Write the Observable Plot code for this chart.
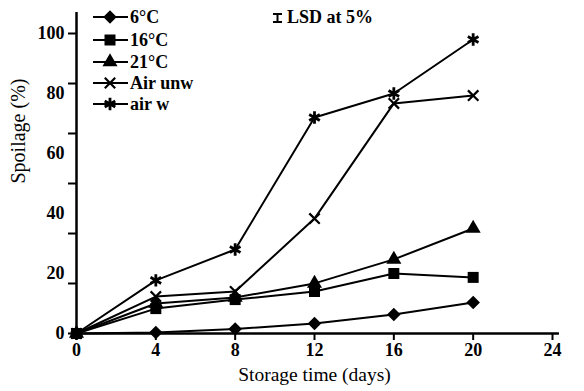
<!DOCTYPE html>
<html><head><meta charset="utf-8">
<script src="https://cdn.jsdelivr.net/npm/d3@7"></script>
<script src="https://cdn.jsdelivr.net/npm/@observablehq/plot@0.6"></script>
<style>
body{margin:0;background:#fff}
#wrap{position:relative;width:584px;height:391px}
#legend{position:absolute;left:0;top:0}
</style>
</head><body><div id="wrap"></div>
<script>
// ---- data ----
const days = [0, 4, 8, 12, 16, 20];
const s6 = [0, 0.3, 1.5, 3.3, 6.3, 10.3];
const s16 = [0, 8.3, 11.3, 14, 20, 18.7];
const s21 = [0, 10, 12, 16.7, 24.7, 35];
const airUnw = [0, 12.3, 14, 38.3, 76.7, 79.3];
const airW = [0, 17.7, 28, 72, 80, 98];
const seriesNames = ["6°C", "16°C", "21°C", "Air unw", "air w"];
const xTicks = [0, 4, 8, 12, 16, 20, 24];
const yTickLabels = [0, 20, 40, 60, 80, 100];
const yTickMarks = [0, 16.67, 33.33, 50, 66.67, 83.33, 100];

const diamondSym = {draw(ctx, size){const r = Math.sqrt(size/2); ctx.moveTo(0,-r); ctx.lineTo(r,0); ctx.lineTo(0,r); ctx.lineTo(-r,0); ctx.closePath();}};
const styles = [
  {symbol: diamondSym, r: 5.4, fill: "black", stroke: "none", sw: 0},
  {symbol: "square", r: 6.2, fill: "black", stroke: "none", sw: 0},
  {symbol: "triangle", r: 5.6, fill: "black", stroke: "none", sw: 0},
  {symbol: "times", r: 4.8, fill: "none", stroke: "black", sw: 2.2},
  {symbol: "asterisk", r: 5.8, fill: "none", stroke: "black", sw: 2.8}
];
const seriesValues = [s6, s16, s21, airUnw, airW];
const rows = seriesNames.flatMap((n, k) => days.map((d, i) => ({day: d, value: seriesValues[k][i], series: n})));

const font = "'Liberation Serif', 'Times New Roman', serif";
const chart = Plot.plot({
  width: 584, height: 391,
  marginLeft: 76, marginRight: 32, marginTop: 33, marginBottom: 58,
  x: {domain: [0, 24]},
  y: {domain: [0, 100]},
  style: {fontFamily: font, background: "white", color: "black", overflow: "visible"},
  marks: [
    Plot.axisX({ticks: xTicks, tickSize: 7, strokeWidth: 2, tickPadding: 3, fontSize: 18, fontWeight: "bold", label: null}),
    Plot.axisY({ticks: yTickMarks, tickSize: 8, strokeWidth: 2, tickFormat: () => "", label: null}),
    Plot.axisY({ticks: yTickLabels, tickSize: 0, tickPadding: 12, fontSize: 18, fontWeight: "bold", label: null}),
    Plot.ruleY([0], {x1: 0, x2: 24.35, strokeWidth: 2.5}),
    Plot.ruleX([0], {y1: 0, y2: 107, strokeWidth: 2.5}),
    Plot.line(rows, {x: "day", y: "value", z: "series", stroke: "black", strokeWidth: 2}),
    ...seriesNames.map((n, k) => Plot.dot(rows.filter(d => d.series === n), {
      x: "day", y: "value", symbol: styles[k].symbol, r: styles[k].r,
      fill: styles[k].fill, stroke: styles[k].stroke, strokeWidth: styles[k].sw
    })),
    Plot.text(["Storage time (days)"], {frameAnchor: "bottom", dy: 47, fontSize: 19.5}),
    Plot.text(["Spoilage (%)"], {frameAnchor: "left", dx: -58, rotate: -90, fontSize: 20})
  ]
});
const wrap = document.getElementById("wrap");
wrap.appendChild(chart);

// ---- legend and LSD note ----
const rowY = [17, 40, 62, 83, 104];
const leg = d3.select(wrap).append("svg").attr("id", "legend").attr("width", 400).attr("height", 120);
seriesNames.forEach((n, k) => {
  const g = leg.append("g").attr("transform", `translate(0,${rowY[k]})`);
  g.append("line").attr("x1", 93).attr("x2", 128).attr("stroke", "black").attr("stroke-width", 2);
  const st = styles[k];
  const sym = typeof st.symbol === "string" ? {square: d3.symbolSquare, triangle: d3.symbolTriangle, times: d3.symbolTimes, asterisk: d3.symbolAsterisk}[st.symbol] : st.symbol;
  g.append("path").attr("transform", "translate(110,0)")
    .attr("d", d3.symbol(sym, Math.PI * st.r * st.r)())
    .attr("fill", st.fill).attr("stroke", st.stroke).attr("stroke-width", st.sw);
  g.append("text").attr("x", 130).attr("dy", "0.32em").attr("font-family", font)
    .attr("font-size", 18).attr("font-weight", "bold").text(n);
});
const lsd = leg.append("g").attr("transform", "translate(0,18)").attr("stroke", "black").attr("stroke-width", 2);
lsd.append("line").attr("x1", 273).attr("x2", 282).attr("y1", -4).attr("y2", -4);
lsd.append("line").attr("x1", 273).attr("x2", 282).attr("y1", 4).attr("y2", 4);
lsd.append("line").attr("x1", 277.5).attr("x2", 277.5).attr("y1", -4).attr("y2", 4);
leg.append("text").attr("x", 287).attr("y", 17).attr("dy", "0.32em").attr("font-family", font)
  .attr("font-size", 18).attr("font-weight", "bold").text("LSD at 5%");
</script>
</body></html>
